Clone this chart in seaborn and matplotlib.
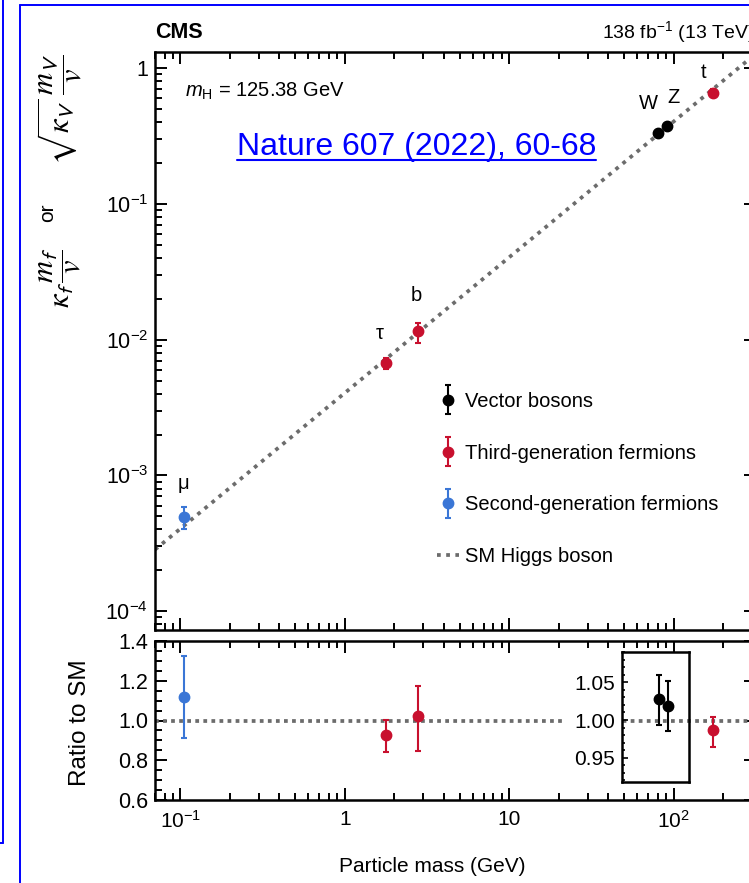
import numpy as np
import pandas as pd
import matplotlib
matplotlib.use("Agg")
import matplotlib.pyplot as plt
import seaborn as sns
from matplotlib.lines import Line2D
from matplotlib.patches import Rectangle
from matplotlib.legend_handler import HandlerErrorbar
from matplotlib.container import ErrorbarContainer
from matplotlib.ticker import FixedLocator, LogLocator, MultipleLocator, NullFormatter, NullLocator

# ---------------- data ----------------
particles = ["μ", "τ", "b", "W", "Z", "t"]
groups = ["second", "third", "third", "vector", "vector", "third"]
mass = [0.105, 1.77, 2.77, 80.4, 91.2, 173.0]
coupling = [4.91e-4, 6.70e-3, 1.16e-2, 0.332, 0.376, 0.661]
coupling_lo = [4.01e-4, 6.10e-3, 9.5e-3, 0.330, 0.374, 0.620]
coupling_hi = [5.88e-4, 7.30e-3, 1.33e-2, 0.335, 0.379, 0.700]
ratio = [1.117, 0.926, 1.022, 1.028, 1.018, 0.950]
ratio_lo = [0.913, 0.840, 0.849, 0.993, 0.985, 0.869]
ratio_hi = [1.323, 1.005, 1.176, 1.060, 1.051, 1.020]
in_inset = [False, False, False, True, True, False]

sm_mass = [0.07, 316.0]
sm_coupling = [2.84e-4, 1.283]
sm_ratio = [1.0, 1.0]

group_order = ["vector", "third", "second"]
group_labels = ["Vector bosons", "Third-generation fermions", "Second-generation fermions"]
sm_label = "SM Higgs boson"

x_ticks = [0.1, 1, 10, 100]
x_ticklabels = ["$10^{-1}$", "1", "10", "$10^{2}$"]
y_ticks = [1e-4, 1e-3, 1e-2, 1e-1, 1]
y_ticklabels = ["$10^{-4}$", "$10^{-3}$", "$10^{-2}$", "$10^{-1}$", "1"]
r_ticks = [0.6, 0.8, 1.0, 1.2, 1.4]
r_ticklabels = ["0.6", "0.8", "1.0", "1.2", "1.4"]
inset_ticks = [0.95, 1.00, 1.05]
inset_ticklabels = ["0.95", "1.00", "1.05"]

# ---------------- style ----------------
colors = {"vector": "#000000", "third": "#c8102e", "second": "#3a76d6"}
sm_color = "#6c6c6c"
label_offsets = {"μ": (-1, 34), "τ": (-6, 30), "b": (-1, 35), "W": (-10, 30), "Z": (6, 28), "t": (-9, 20)}

sns.set_theme(style="ticks")
plt.rcParams["font.family"] = ["Liberation Sans", "DejaVu Sans"]
plt.rcParams.update({
    "mathtext.fontset": "custom",
    "mathtext.rm": "Liberation Sans",
    "mathtext.sf": "Liberation Sans",
    "mathtext.it": "Liberation Sans:italic",
    "mathtext.bf": "Liberation Sans:bold",
    "axes.edgecolor": "black",
    "xtick.color": "black",
    "ytick.color": "black",
    "text.color": "black",
    "axes.labelcolor": "black",
})

W, H = 749, 883
fig = plt.figure(figsize=(W / 100, H / 100), dpi=100)
fig.patch.set_facecolor("white")


def fx(px):
    return px / W


def fy(py):
    return 1 - py / H


def rect(l, t, r, b):
    return [fx(l), fy(b), fx(r) - fx(l), fy(t) - fy(b)]


ax = fig.add_axes(rect(155, 52, 756, 630))
axr = fig.add_axes(rect(155, 641, 756, 800))
axi = fig.add_axes(rect(622, 652, 689, 782))
axi.set_zorder(2)

for a in (ax, axr):
    a.set_xscale("log")
ax.set_yscale("log")
axi.set_xscale("log")

ax.set_xlim(sm_mass[0], sm_mass[1])
axr.set_xlim(sm_mass[0], sm_mass[1])
ax.set_ylim(7.26e-5, 1.318)
axr.set_ylim(0.6, 1.4)
axi.set_xlim(48.2, 123)
axi.set_ylim(0.918, 1.09)

# SM lines
dot_main = (0, (1, 1.45))
dot_ratio = (0, (1, 1.15))
sns.lineplot(x=sm_mass, y=sm_coupling, ax=ax, color=sm_color, lw=2.7, linestyle=dot_main, zorder=2)
sm_line = ax.lines[-1]
sns.lineplot(x=sm_mass, y=sm_ratio, ax=axr, color=sm_color, lw=2.7, linestyle=dot_ratio, zorder=2)

# points
handles = []
for g in group_order:
    idx = [i for i, gg in enumerate(groups) if gg == g]
    xs = [mass[i] for i in idx]
    ys = [coupling[i] for i in idx]
    yerr = [[coupling[i] - coupling_lo[i] for i in idx], [coupling_hi[i] - coupling[i] for i in idx]]
    c = ax.errorbar(xs, ys, yerr=yerr, fmt="o", color=colors[g], ms=7.5, elinewidth=1.5,
                    capsize=2.2, capthick=1.5, zorder=3)
    handles.append(c)
    for target, flag in ((axr, False), (axi, True)):
        jdx = [i for i in idx if in_inset[i] == flag]
        if not jdx:
            continue
        target.errorbar([mass[i] for i in jdx], [ratio[i] for i in jdx],
                        yerr=[[ratio[i] - ratio_lo[i] for i in jdx], [ratio_hi[i] - ratio[i] for i in jdx]],
                        fmt="o", color=colors[g], ms=7.5, elinewidth=1.5, capsize=2.2, capthick=1.5, zorder=3)

for i, p in enumerate(particles):
    ax.annotate(p, (mass[i], coupling[i]), xytext=label_offsets[p], textcoords="offset pixels",
                ha="center", va="center", fontsize=14.5)

# ticks
for a in (ax, axr):
    a.xaxis.set_major_locator(FixedLocator(x_ticks))
    a.xaxis.set_minor_locator(LogLocator(base=10, subs=np.arange(2, 10), numticks=30))
    a.xaxis.set_minor_formatter(NullFormatter())
    a.tick_params(which="both", direction="in", top=True, right=True, width=1.4)
    a.tick_params(which="major", length=8.5)
    a.tick_params(which="minor", length=4.8)
    a.tick_params(axis="y", labelsize=15.5, pad=5)
    for s in a.spines.values():
        s.set_linewidth(1.8)
ax.tick_params(labelbottom=False)
axr.set_xticks(x_ticks, x_ticklabels)
axr.tick_params(axis="x", labelsize=15, pad=7)

ax.yaxis.set_major_locator(FixedLocator(y_ticks))
ax.set_yticks(y_ticks, y_ticklabels)
ax.yaxis.set_minor_locator(LogLocator(base=10, subs=np.arange(2, 10), numticks=30))
ax.yaxis.set_minor_formatter(NullFormatter())

axr.set_yticks(r_ticks, r_ticklabels)
axr.yaxis.set_minor_locator(MultipleLocator(0.05))

axi.patch.set_facecolor("none")
axi.xaxis.set_major_locator(NullLocator())
axi.xaxis.set_minor_locator(NullLocator())
axi.set_yticks(inset_ticks, inset_ticklabels)
axi.yaxis.set_minor_locator(MultipleLocator(0.01))
axi.tick_params(which="both", direction="in", left=True, right=False, top=False, bottom=False, width=1.2)
axi.tick_params(which="major", length=4.5, labelsize=15, pad=5)
axi.tick_params(which="minor", length=2.5)
for s in axi.spines.values():
    s.set_linewidth(1.8)

# white backing behind the inset tick labels
fig.add_artist(Rectangle((fx(563), fy(728)), fx(622) - fx(563), fy(712) - fy(728),
                         transform=fig.transFigure, facecolor="white", edgecolor="none", zorder=1))

# legend
leg = ax.legend(handles + [sm_line], group_labels + [sm_label], loc="upper left",
                bbox_to_anchor=(fx(437), fy(392)), bbox_transform=fig.transFigure,
                frameon=False, fontsize=14.5, handlelength=1.1, handletextpad=0.3,
                labelspacing=1.62, borderpad=0, borderaxespad=0,
                handler_map={ErrorbarContainer: HandlerErrorbar(xerr_size=0.72)})

# texts
fig.text(fx(155), fy(32), "CMS", fontsize=15.5, fontweight="bold", ha="left", va="center")
fig.text(fx(602), fy(32), r"138 fb$^{-1}$ (13 TeV)", fontsize=14, ha="left", va="center")
fig.text(fx(185), fy(97), r"$m_\mathrm{H}$ = 125.38 GeV", fontsize=14.5, ha="left", va="baseline")
link = fig.text(fx(237), fy(155), "Nature 607 (2022), 60-68", fontsize=23, color="#0000ff",
                ha="left", va="baseline")

# y-axis label of the upper panel (three parts, rotated)
fig.text(fx(60), fy(277), r"$\kappa_\mathsf{f}\,\dfrac{m_\mathsf{f}}{v}$",
         rotation=90, ha="center", va="center", fontsize=22, math_fontfamily="stix")
fig.text(fx(48), fy(213), "or", rotation=90, ha="center", va="center", fontsize=15)
fig.text(fx(60), fy(109), r"$\sqrt{\kappa_\mathsf{V}}\;\dfrac{m_\mathsf{V}}{v}$",
         rotation=90, ha="center", va="center", fontsize=22, math_fontfamily="stix")

fig.text(fx(80), fy(723), "Ratio to SM", rotation=90, ha="center", va="center", fontsize=17.5)
fig.text(fx(432), fy(866), "Particle mass (GeV)", fontsize=15, ha="center", va="center")

# slide frames
blue = "#0000ff"
fig.add_artist(Line2D([fx(20), fx(20)], [fy(5), fy(900)], transform=fig.transFigure, color=blue, lw=1.4))
fig.add_artist(Line2D([fx(20), fx(770)], [fy(5), fy(5)], transform=fig.transFigure, color=blue, lw=1.4))
fig.add_artist(Line2D([fx(3), fx(3)], [fy(-10), fy(843)], transform=fig.transFigure, color=blue, lw=1.4))
fig.add_artist(Line2D([fx(-10), fx(3)], [fy(843), fy(843)], transform=fig.transFigure, color=blue, lw=1.4))

# underline for the link
fig.canvas.draw()
bb = link.get_window_extent()
fig.add_artist(Line2D([bb.x0 / W, bb.x1 / W], [fy(160), fy(160)], transform=fig.transFigure,
                      color=blue, lw=1.5))

fig.savefig("out.png", dpi=100)
